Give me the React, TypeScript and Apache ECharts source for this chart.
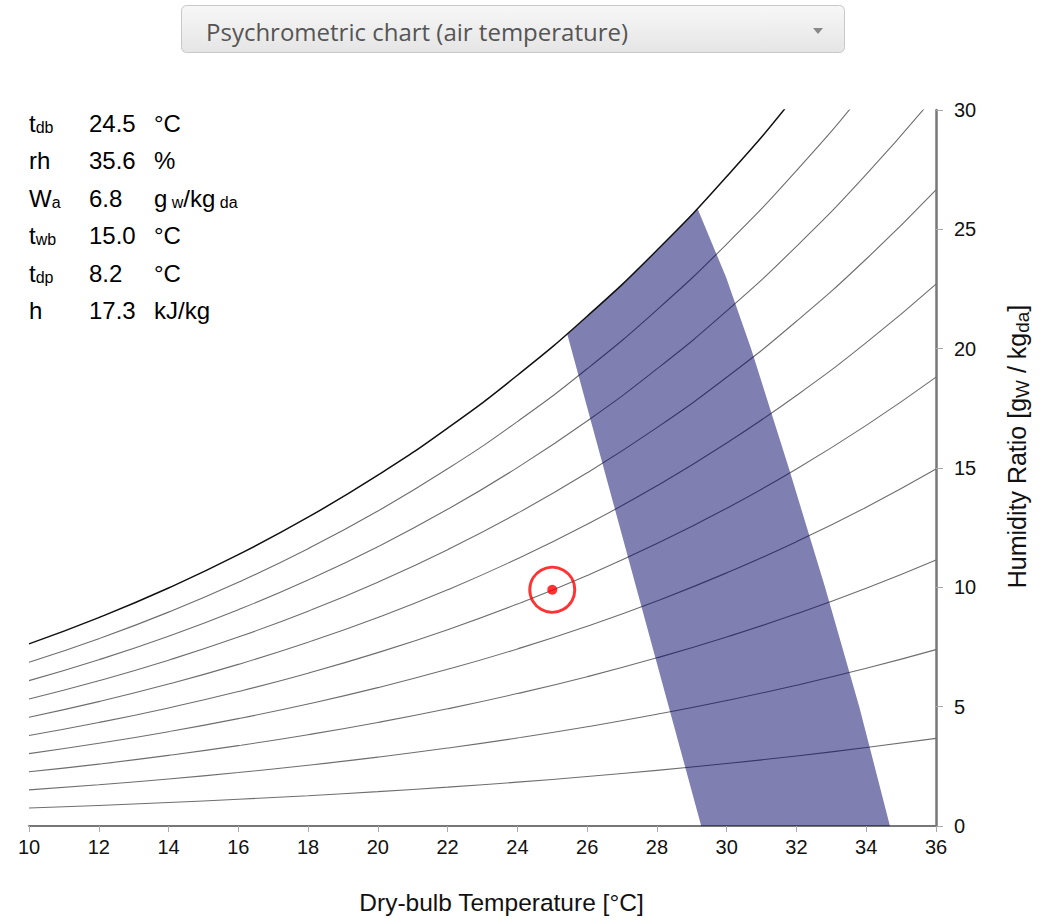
import React, { useEffect, useRef } from "react";
import * as echarts from "echarts";

// Dry-bulb temperatures (°C) at which the relative-humidity curves were read
const temps = [10, 12, 14, 16, 18, 20, 22, 24, 26, 28, 30, 32, 34, 36];
// Humidity ratio (g/kg) of each relative-humidity curve
const rh10 = [0.755, 0.862, 0.983, 1.119, 1.27, 1.439, 1.628, 1.838, 2.072, 2.331, 2.618, 2.936, 3.286, 3.673];
const rh20 = [1.512, 1.727, 1.969, 2.241, 2.545, 2.885, 3.265, 3.688, 4.158, 4.68, 5.258, 5.899, 6.607, 7.389];
const rh30 = [2.27, 2.594, 2.959, 3.368, 3.826, 4.338, 4.91, 5.548, 6.257, 7.046, 7.921, 8.891, 9.964, 11.15];
const rh40 = [3.031, 3.464, 3.951, 4.498, 5.112, 5.798, 6.564, 7.419, 8.371, 9.43, 10.606, 11.911, 13.356, 14.956];
const rh50 = [3.793, 4.336, 4.947, 5.633, 6.403, 7.264, 8.227, 9.302, 10.499, 11.833, 13.315, 14.96, 16.786, 18.808];
const rh60 = [4.557, 5.21, 5.946, 6.772, 7.699, 8.737, 9.898, 11.195, 12.642, 14.253, 16.046, 18.039, 20.252, 22.707];
const rh70 = [5.323, 6.087, 6.948, 7.915, 9.001, 10.217, 11.579, 13.1, 14.799, 16.693, 18.801, 21.148, 23.756, 26.654];
const rh80 = [6.091, 6.966, 7.953, 9.062, 10.308, 11.704, 13.268, 15.017, 16.971, 19.151, 21.58, 24.287, 27.299, 30.649];
const rh90 = [6.86, 7.848, 8.961, 10.214, 11.62, 13.198, 14.966, 16.945, 19.157, 21.628, 24.384, 27.457, 30.881, 34.694];
const rh100 = [7.632, 8.732, 9.973, 11.369, 12.938, 14.7, 16.674, 18.885, 21.359, 24.124, 27.212, 30.658, 34.502, 38.789];

// Comfort zone polygon vertices (temperature °C, humidity ratio g/kg)
const zoneT = [25.43, 26, 27, 28, 29, 29.16, 29.98, 30.7, 31.78, 32.82, 33.8, 34.68, 29.27];
const zoneW = [20.6, 21.36, 22.7, 24.12, 25.63, 25.88, 23.0, 20.0, 15.0, 10.0, 5.0, 0, 0];

// Current state point
const stateT = [25.0];
const stateW = [9.9];

// Axis ticks
const xTicks = [10, 12, 14, 16, 18, 20, 22, 24, 26, 28, 30, 32, 34, 36];
const yTicks = [0, 5, 10, 15, 20, 25, 30];

// Info panel
const panelMain = ["t", "rh", "W", "t", "t", "h"];
const panelSub = ["db", "", "a", "wb", "dp", ""];
const panelValues = ["24.5", "35.6", "6.8", "15.0", "8.2", "17.3"];
const panelUnits = ["°C", "%", "g|w|/kg|da", "°C", "°C", "kJ/kg"];

const title = "Psychrometric chart (air temperature)";

const FONT = "'Liberation Sans', Arial, sans-serif";

export default function App() {
  const ref = useRef<HTMLDivElement>(null);

  useEffect(() => {
    if (!ref.current) return;
    const chart = echarts.init(ref.current, null, { renderer: "svg" });

    const rhSets = [rh10, rh20, rh30, rh40, rh50, rh60, rh70, rh80, rh90, rh100];
    const lineSeries = rhSets.map((arr, k) => ({
      type: "line",
      name: `${(k + 1) * 10}%`,
      data: temps.map((t, i) => [t, arr[i]]),
      showSymbol: false,
      smooth: true,
      clip: true,
      silent: true,
      z: k === 9 ? 4 : 2,
      lineStyle: k === 9 ? { color: "#111", width: 1.5 } : { color: "#6e6e6e", width: 1.1 },
    }));

    const rich = {
      m: { fontSize: 24, fontFamily: FONT, color: "#111", lineHeight: 28, verticalAlign: "bottom" },
      s: { fontSize: 16, fontFamily: FONT, color: "#111", lineHeight: 19, verticalAlign: "bottom" },
    };

    const rowY = [121, 158, 196, 233, 271, 308];
    const panel: any[] = [];
    panelMain.forEach((m, i) => {
      const lbl = panelSub[i] ? `{m|${m}}{s|${panelSub[i]}}` : `{m|${m}}`;
      panel.push({ type: "text", x: 29, y: rowY[i], style: { text: lbl, rich, verticalAlign: "middle" } });
      panel.push({
        type: "text",
        x: 89,
        y: rowY[i],
        style: { text: `{m|${panelValues[i]}}`, rich, verticalAlign: "middle" },
      });
      const parts = panelUnits[i].split("|");
      const unit = parts.map((p, j) => (j % 2 === 1 ? `{s| ${p}}` : `{m|${p}}`)).join("");
      panel.push({ type: "text", x: 154, y: rowY[i], style: { text: unit, rich, verticalAlign: "middle" } });
    });

    const option: any = {
      animation: false,
      backgroundColor: "#fff",
      grid: { left: 29, right: 125, top: 110, bottom: 93 },
      xAxis: {
        type: "value",
        min: xTicks[0],
        max: xTicks[xTicks.length - 1],
        interval: 2,
        name: "Dry-bulb Temperature [°C]",
        nameLocation: "middle",
        nameGap: 64,
        nameTextStyle: { fontSize: 24.5, fontFamily: FONT, color: "#111", padding: [0, 0, 0, 38] },
        axisLine: { show: true, lineStyle: { color: "#777", width: 2 } },
        axisTick: { show: true, length: 6, lineStyle: { color: "#aaa", width: 1 } },
        axisLabel: { fontSize: 20, fontFamily: FONT, color: "#111", margin: 11 },
        splitLine: { show: false },
      },
      yAxis: {
        type: "value",
        position: "right",
        min: yTicks[0],
        max: yTicks[yTicks.length - 1],
        interval: 5,
        name: "{m|Humidity Ratio [g}{s|W}{m| / kg}{s|da}{m|]}",
        nameLocation: "middle",
        nameRotate: 90,
        nameGap: 68,
        nameTextStyle: {
          fontSize: 25,
          fontFamily: FONT,
          color: "#111",
          padding: [0, 0, 0, 43],
          rich: {
            m: { fontSize: 25, fontFamily: FONT, color: "#111", lineHeight: 28, verticalAlign: "top" },
            s: { fontSize: 19, fontFamily: FONT, color: "#111", lineHeight: 19, verticalAlign: "bottom" },
          },
        },
        axisLine: { show: true, onZero: false, lineStyle: { color: "#777", width: 2.5 } },
        axisTick: { show: true, length: 7, lineStyle: { color: "#aaa", width: 1 } },
        axisLabel: { fontSize: 20, fontFamily: FONT, color: "#111", margin: 18 },
        splitLine: { show: false },
      },
      series: [
        ...lineSeries,
        {
          type: "custom",
          silent: true,
          z: 3,
          clip: true,
          data: [[zoneT[0], zoneW[0]]],
          renderItem: (_params: any, api: any) => ({
            type: "polygon",
            shape: { points: zoneT.map((t, i) => api.coord([t, zoneW[i]])) },
            style: { fill: "rgba(0,0,100,0.5)" },
          }),
        },
        {
          type: "scatter",
          z: 6,
          silent: true,
          symbol: "circle",
          symbolSize: 45,
          data: stateT.map((t, i) => [t, stateW[i]]),
          itemStyle: { color: "rgba(0,0,0,0)", borderColor: "#ff0000", borderWidth: 3 },
        },
        {
          type: "scatter",
          z: 7,
          silent: true,
          symbol: "circle",
          symbolSize: 10,
          data: stateT.map((t, i) => [t, stateW[i]]),
          itemStyle: { color: "#ff0000" },
        },
      ],
      graphic: [
        {
          type: "rect",
          shape: { x: 181.5, y: 5.5, width: 663, height: 47, r: 5 },
          style: {
            fill: new echarts.graphic.LinearGradient(0, 0, 0, 1, [
              { offset: 0, color: "#f7f7f7" },
              { offset: 1, color: "#e5e5e5" },
            ]),
            stroke: "#c8c8c8",
            lineWidth: 1,
          },
        },
        {
          type: "text",
          x: 206,
          y: 31,
          style: {
            text: title,
            fontSize: 24,
            fontFamily: "'Open Sans', 'DejaVu Sans', sans-serif",
            fill: "#555",
            verticalAlign: "middle",
          },
        },
        {
          type: "polygon",
          shape: { points: [[813, 28], [823, 28], [818, 34]] },
          style: { fill: "#888" },
        },
        ...panel,
      ],
    };

    chart.setOption(option);
    return () => chart.dispose();
  }, []);

  return (
    <div
      ref={ref}
      style={{ position: "absolute", left: 0, top: 0, width: 1061, height: 920 }}
    />
  );
}
